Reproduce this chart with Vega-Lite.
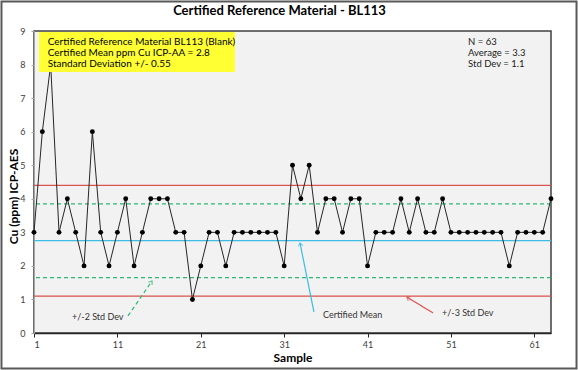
{
  "$schema": "https://vega.github.io/schema/vega-lite/v6.json",
  "width": 517,
  "height": 302,
  "autosize": {"type": "none"},
  "padding": {"left": 34, "top": 31, "right": 27, "bottom": 37},
  "background": "white",
  "title": {
    "text": "Certified Reference Material - BL113",
    "font": "Lato",
    "fontSize": 13,
    "fontWeight": "bold",
    "color": "#000000",
    "anchor": "middle",
    "frame": "group",
    "dx": -13,
    "offset": -18
  },
  "config": {
    "font": "Lato",
    "view": {"fill": "#f2f2f2", "stroke": "#404040", "strokeWidth": 1.5},
    "axis": {"grid": false, "labelFont": "Lato", "titleFont": "Lato", "labelColor": "#404040", "titleColor": "#000000"}
  },
  "datasets": {
    "samples": [
      {"Sample": 1, "Cu": 3}, {"Sample": 2, "Cu": 6}, {"Sample": 3, "Cu": 8}, {"Sample": 4, "Cu": 3},
      {"Sample": 5, "Cu": 4}, {"Sample": 6, "Cu": 3}, {"Sample": 7, "Cu": 2}, {"Sample": 8, "Cu": 6},
      {"Sample": 9, "Cu": 3}, {"Sample": 10, "Cu": 2}, {"Sample": 11, "Cu": 3}, {"Sample": 12, "Cu": 4},
      {"Sample": 13, "Cu": 2}, {"Sample": 14, "Cu": 3}, {"Sample": 15, "Cu": 4}, {"Sample": 16, "Cu": 4},
      {"Sample": 17, "Cu": 4}, {"Sample": 18, "Cu": 3}, {"Sample": 19, "Cu": 3}, {"Sample": 20, "Cu": 1},
      {"Sample": 21, "Cu": 2}, {"Sample": 22, "Cu": 3}, {"Sample": 23, "Cu": 3}, {"Sample": 24, "Cu": 2},
      {"Sample": 25, "Cu": 3}, {"Sample": 26, "Cu": 3}, {"Sample": 27, "Cu": 3}, {"Sample": 28, "Cu": 3},
      {"Sample": 29, "Cu": 3}, {"Sample": 30, "Cu": 3}, {"Sample": 31, "Cu": 2}, {"Sample": 32, "Cu": 5},
      {"Sample": 33, "Cu": 4}, {"Sample": 34, "Cu": 5}, {"Sample": 35, "Cu": 3}, {"Sample": 36, "Cu": 4},
      {"Sample": 37, "Cu": 4}, {"Sample": 38, "Cu": 3}, {"Sample": 39, "Cu": 4}, {"Sample": 40, "Cu": 4},
      {"Sample": 41, "Cu": 2}, {"Sample": 42, "Cu": 3}, {"Sample": 43, "Cu": 3}, {"Sample": 44, "Cu": 3},
      {"Sample": 45, "Cu": 4}, {"Sample": 46, "Cu": 3}, {"Sample": 47, "Cu": 4}, {"Sample": 48, "Cu": 3},
      {"Sample": 49, "Cu": 3}, {"Sample": 50, "Cu": 4}, {"Sample": 51, "Cu": 3}, {"Sample": 52, "Cu": 3},
      {"Sample": 53, "Cu": 3}, {"Sample": 54, "Cu": 3}, {"Sample": 55, "Cu": 3}, {"Sample": 56, "Cu": 3},
      {"Sample": 57, "Cu": 3}, {"Sample": 58, "Cu": 2}, {"Sample": 59, "Cu": 3}, {"Sample": 60, "Cu": 3},
      {"Sample": 61, "Cu": 3}, {"Sample": 62, "Cu": 3}, {"Sample": 63, "Cu": 4}
    ],
    "limits": [
      {"value": 4.4, "kind": "3sd"},
      {"value": 3.85, "kind": "2sd"},
      {"value": 2.75, "kind": "mean"},
      {"value": 1.65, "kind": "2sd"},
      {"value": 1.1, "kind": "3sd"}
    ],
    "infobox": [
      {"line": "Certified Reference Material BL113 (Blank)", "x": 2.65, "y": 8.67},
      {"line": "Certified Mean ppm  Cu ICP-AA = 2.8", "x": 2.65, "y": 8.34},
      {"line": "Standard Deviation  +/- 0.55", "x": 2.65, "y": 8.01}
    ],
    "stats": [
      {"line": "N = 63", "x": 53.05, "y": 8.67},
      {"line": "Average = 3.3", "x": 53.05, "y": 8.34},
      {"line": "Std Dev = 1.1", "x": 53.05, "y": 8.01}
    ],
    "notes": [
      {"label": "+/-2 Std Dev", "x": 5.56, "y": 0.48},
      {"label": "Certified Mean", "x": 35.66, "y": 0.54},
      {"label": "+/-3 Std Dev", "x": 49.93, "y": 0.6}
    ],
    "arrows": [
      {"kind": "2sd", "x": 12.27, "y": 0.51, "x2": 15.15, "y2": 1.55},
      {"kind": "mean", "x": 34.57, "y": 0.63, "x2": 32.9, "y2": 2.68},
      {"kind": "3sd", "x": 48.84, "y": 0.6, "x2": 45.72, "y2": 1.07}
    ]
  },
  "layer": [
    {
      "data": {"values": [{}]},
      "mark": {"type": "rect", "fill": null, "stroke": "#595959", "strokeWidth": 2, "clip": false},
      "encoding": {
        "x": {"datum": -2.9, "type": "quantitative",
          "scale": {"domain": [1, 63], "nice": false, "zero": false},
          "axis": {"values": [1, 11, 21, 31, 41, 51, 61], "tickCount": 20, "format": "d", "title": "Sample", "titleFontSize": 12, "titleFontWeight": "bold",
            "labelFontSize": 9, "tickSize": 4, "labelPadding": 3, "domainColor": "#262626", "domainWidth": 1.5, "tickColor": "#262626", "titlePadding": 3}},
        "x2": {"datum": 66.06},
        "y": {"datum": 9.88, "type": "quantitative",
          "scale": {"domain": [0, 9], "nice": false},
          "axis": {"values": [0, 1, 2, 3, 4, 5, 6, 7, 8, 9], "tickCount": 20, "format": "d", "title": "Cu (ppm) ICP-AES", "titleFontSize": 12, "titleFontWeight": "bold",
            "labelFontSize": 9, "tickSize": 3, "labelPadding": 6, "labelOverlap": false, "domainColor": "#a6a6a6", "tickColor": "#a6a6a6",
            "titleX": -17, "titleBaseline": "alphabetic", "titleY": 165}},
        "y2": {"datum": -1.06}
      }
    },
    {
      "data": {"name": "limits"},
      "mark": {"type": "rule", "strokeWidth": 1.2},
      "encoding": {
        "y": {"field": "value", "type": "quantitative"},
        "color": {"field": "kind", "type": "nominal", "legend": null,
          "scale": {"domain": ["3sd", "2sd", "mean"], "range": ["#d9534f", "#2eb872", "#3bbce4"]}},
        "strokeDash": {"field": "kind", "type": "nominal", "legend": null,
          "scale": {"domain": ["3sd", "2sd", "mean"], "range": [[1, 0], [4, 3], [1, 0]]}}
      }
    },
    {
      "data": {"name": "samples"},
      "mark": {"type": "line", "color": "#262626", "strokeWidth": 1, "point": {"filled": true, "color": "#000000", "size": 24}},
      "encoding": {
        "x": {"field": "Sample", "type": "quantitative"},
        "y": {"field": "Cu", "type": "quantitative"}
      }
    },
    {
      "data": {"values": [{}]},
      "mark": {"type": "rect", "fill": "#ffff33", "stroke": null},
      "encoding": {
        "x": {"datum": 1.6, "type": "quantitative"},
        "x2": {"datum": 25.1},
        "y": {"datum": 8.97, "type": "quantitative"},
        "y2": {"datum": 7.78}
      }
    },
    {
      "data": {"name": "infobox"},
      "mark": {"type": "text", "align": "left", "baseline": "middle", "fontSize": 10, "color": "#000000"},
      "encoding": {
        "x": {"field": "x", "type": "quantitative"},
        "y": {"field": "y", "type": "quantitative"},
        "text": {"field": "line"}
      }
    },
    {
      "data": {"name": "stats"},
      "mark": {"type": "text", "align": "left", "baseline": "middle", "fontSize": 9.5, "color": "#1a1a1a"},
      "encoding": {
        "x": {"field": "x", "type": "quantitative"},
        "y": {"field": "y", "type": "quantitative"},
        "text": {"field": "line"}
      }
    },
    {
      "data": {"name": "notes"},
      "mark": {"type": "text", "align": "left", "baseline": "middle", "fontSize": 9, "color": "#333333"},
      "encoding": {
        "x": {"field": "x", "type": "quantitative"},
        "y": {"field": "y", "type": "quantitative"},
        "text": {"field": "label"}
      }
    },
    {
      "data": {"name": "arrows"},
      "mark": {"type": "rule", "strokeWidth": 1.2},
      "encoding": {
        "x": {"field": "x", "type": "quantitative"},
        "y": {"field": "y", "type": "quantitative"},
        "x2": {"field": "x2"},
        "y2": {"field": "y2"},
        "color": {"field": "kind", "type": "nominal", "legend": null,
          "scale": {"domain": ["3sd", "2sd", "mean"], "range": ["#d9534f", "#2eb872", "#3bbce4"]}},
        "strokeDash": {"field": "kind", "type": "nominal", "legend": null,
          "scale": {"domain": ["3sd", "2sd", "mean"], "range": [[1, 0], [4, 3], [1, 0]]}}
      }
    },
    {
      "data": {"name": "arrows"},
      "transform": [{"filter": "datum.kind === '2sd'"}],
      "mark": {"type": "point", "shape": "M-0.6,0.8L0,0L0.6,0.8", "filled": false, "strokeWidth": 1.2, "size": 60, "angle": 34, "color": "#2eb872"},
      "encoding": {
        "x": {"field": "x2", "type": "quantitative"},
        "y": {"field": "y2", "type": "quantitative"}
      }
    },
    {
      "data": {"name": "arrows"},
      "transform": [{"filter": "datum.kind === 'mean'"}],
      "mark": {"type": "point", "shape": "M-0.6,0.8L0,0L0.6,0.8", "filled": false, "strokeWidth": 1.2, "size": 60, "angle": 348, "color": "#3bbce4"},
      "encoding": {
        "x": {"field": "x2", "type": "quantitative"},
        "y": {"field": "y2", "type": "quantitative"}
      }
    },
    {
      "data": {"name": "arrows"},
      "transform": [{"filter": "datum.kind === '3sd'"}],
      "mark": {"type": "point", "shape": "M-0.6,0.8L0,0L0.6,0.8", "filled": false, "strokeWidth": 1.2, "size": 60, "angle": 302, "color": "#d9534f"},
      "encoding": {
        "x": {"field": "x2", "type": "quantitative"},
        "y": {"field": "y2", "type": "quantitative"}
      }
    }
  ]
}
